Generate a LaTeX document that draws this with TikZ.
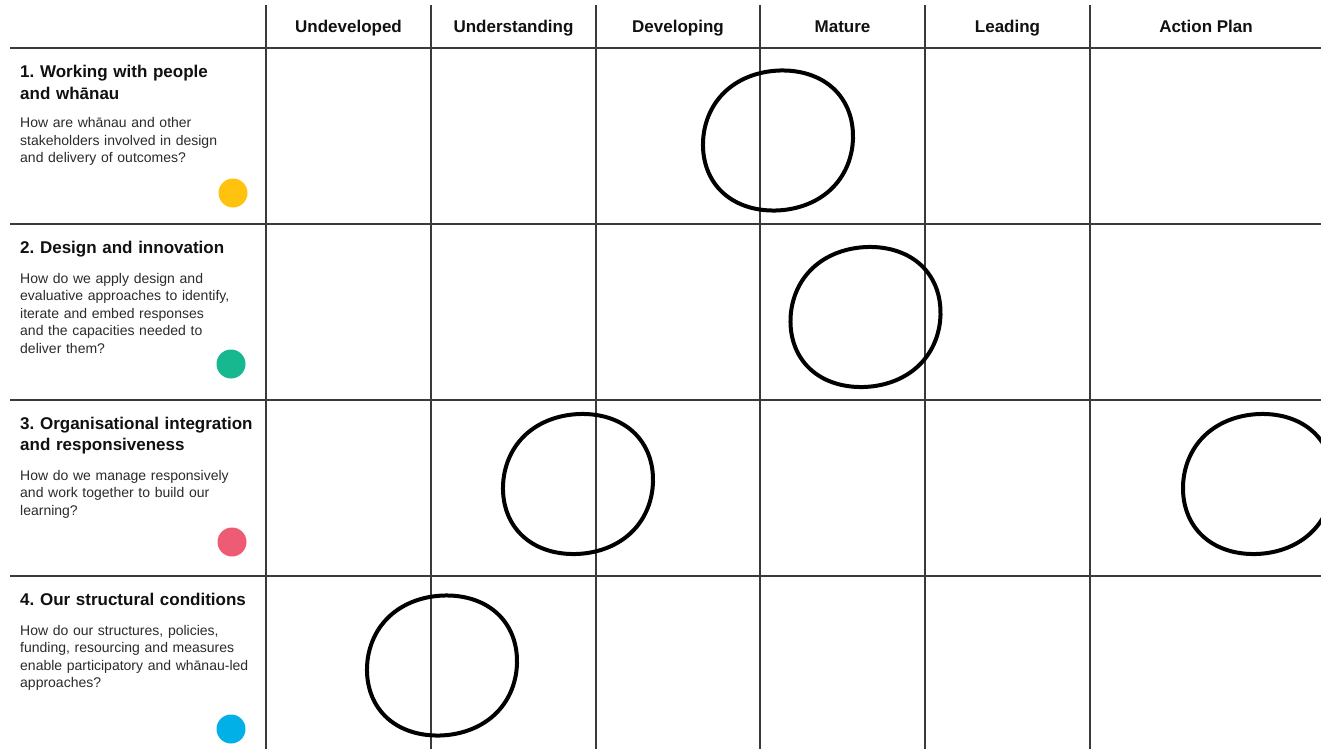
\documentclass[tikz,border=0pt]{standalone}
\usepackage{fontspec}
\setmainfont{Liberation Sans}
\usepackage{xcolor}
\usepackage{tikz}
\usetikzlibrary{calc}
\frenchspacing
\definecolor{bg}{HTML}{FFFFFF}
\definecolor{grid}{HTML}{3A3A3A}
\definecolor{ink}{HTML}{111111}
\definecolor{muted}{HTML}{2B2B2B}
\definecolor{yellow}{HTML}{FFC20E}
\definecolor{green}{HTML}{17B890}
\definecolor{pink}{HTML}{EE5B74}
\definecolor{blue}{HTML}{00B0E6}
\tikzset{
  rule/.style={draw=grid, line width=1.3pt},
  ring/.style={draw=black, line width=4pt, line join=round},
  head/.style={text=ink, font=\fontsize{17}{20}\selectfont\bfseries, inner sep=0pt, anchor=base},
  title/.style={text=ink, font=\fontsize{17}{21.5}\selectfont\bfseries, inner sep=0pt,
    anchor=base west, text width=250pt, align=left},
  ask/.style={text=muted, font=\fontsize{14}{17.5}\selectfont, inner sep=0pt,
    anchor=base west, text width=240pt, align=left},
  dot/.style={circle, draw=none, inner sep=0pt, minimum size=29pt},
}
% hand drawn ring around a point
\newcommand{\ringat}[1]{%
  \draw[ring, shift={(#1)}] plot[smooth, domain=0:355, samples=72]
    ({75*cos(\x)*(1.01-0.01*cos(4*\x))-2*sin(\x)},
     {70*sin(\x)*(1.01-0.01*cos(4*\x))-2*cos(\x)+1}) -- cycle;}

\begin{document}
\begin{tikzpicture}[x=1pt, y=-1pt]
  \useasboundingbox (0,0) rectangle (1321,749);
  \clip (0,0) rectangle (1321,749);
  \fill[bg] (0,0) rectangle (1321,749);

  % grid
  \draw[rule] (266,5) -- (266,749);
  \draw[rule] (431,5) -- (431,749);
  \draw[rule] (596,5) -- (596,749);
  \draw[rule] (760,5) -- (760,749);
  \draw[rule] (925,5) -- (925,749);
  \draw[rule] (1090,5) -- (1090,749);
  \draw[rule] (10,48) -- (1321,48);
  \draw[rule] (10,224) -- (1321,224);
  \draw[rule] (10,400) -- (1321,400);
  \draw[rule] (10,576) -- (1321,576);

  % header row
  \node[head] (undev) at (348.5,33) {Undeveloped};
  \node[head] (under) at (513.5,33) {Understanding};
  \node[head] (devel) at (678,33) {Developing};
  \node[head] (mature) at (842.5,33) {Mature};
  \node[head] (lead) at (1007.5,33) {Leading};
  \node[head] (plan) at (1206,33) {Action Plan};

  % row 1
  \node[title] (t1) at (20,78) {1. Working with people\\and whānau};
  \node[ask] (q1) at (20,128) {How are whānau and other\\stakeholders involved in design\\and delivery of outcomes?};
  \node[dot, fill=yellow] (d1) at (233,193) {};

  % row 2
  \node[title] (t2) at (20,253) {2. Design and innovation};
  \node[ask] (q2) at (20,283) {How do we apply design and\\evaluative approaches to identify,\\iterate and embed responses\\and the capacities needed to\\deliver them?};
  \node[dot, fill=green] (d2) at (231,364) {};

  % row 3
  \node[title] (t3) at (20,429) {3. Organisational integration\\and responsiveness};
  \node[ask] (q3) at (20,480) {How do we manage responsively\\and work together to build our\\learning?};
  \node[dot, fill=pink] (d3) at (232,542) {};

  % row 4
  \node[title] (t4) at (20,605) {4. Our structural conditions};
  \node[ask] (q4) at (20,635) {How do our structures, policies,\\funding, resourcing and measures\\enable participatory and whānau-led\\approaches?};
  \node[dot, fill=blue] (d4) at (231,729) {};

  % rings
  \coordinate (R1) at (778,139.5);
  \coordinate (R2) at (865.5,316);
  \coordinate (R3) at (578,483);
  \coordinate (R4) at (1258,483);
  \coordinate (R5) at (442,664.5);
  \ringat{R1}
  \ringat{R2}
  \ringat{R3}
  \ringat{R4}
  \ringat{R5}
\end{tikzpicture}
\end{document}
